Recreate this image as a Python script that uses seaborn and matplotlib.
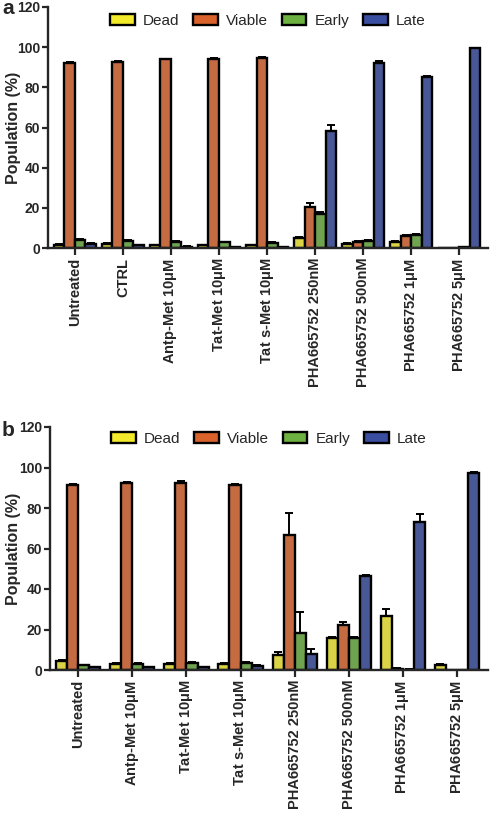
import pandas as pd
import matplotlib.pyplot as plt
import seaborn as sns
import numpy as np

# --- data ---
stages = ["Dead", "Viable", "Early", "Late"]
colors = ["#F3EA2C", "#DA632B", "#6DB141", "#3B4FA2"]

labels_a = ["Untreated", "CTRL", "Antp-Met 10$\\mu$M", "Tat-Met 10$\\mu$M", "Tat s-Met 10$\\mu$M",
            "PHA665752 250nM", "PHA665752 500nM", "PHA665752 1$\\mu$M", "PHA665752 5$\\mu$M"]
dead_a = [1.5, 2.2, 1.5, 1.3, 1.5, 5.0, 2.0, 3.0, 0.0]
viable_a = [92.0, 92.5, 94.0, 94.3, 94.5, 20.5, 3.0, 6.0, 0.0]
early_a = [4.0, 3.5, 3.0, 2.8, 2.5, 17.0, 3.5, 6.5, 0.3]
late_a = [2.0, 1.5, 0.7, 0.6, 0.6, 58.5, 92.0, 85.0, 99.5]
dead_err_a = [0.3, 0.3, 0.2, 0.2, 0.2, 0.6, 0.3, 0.3, 0.0]
viable_err_a = [0.8, 0.5, 0.3, 0.3, 0.5, 2.0, 0.3, 0.3, 0.0]
early_err_a = [0.6, 0.4, 0.3, 0.3, 0.3, 1.0, 0.3, 0.3, 0.0]
late_err_a = [0.3, 0.2, 0.1, 0.1, 0.1, 2.5, 1.0, 0.5, 0.2]

labels_b = ["Untreated", "Antp-Met 10$\\mu$M", "Tat-Met 10$\\mu$M", "Tat s-Met 10$\\mu$M",
            "PHA665752 250nM", "PHA665752 500nM", "PHA665752 1$\\mu$M", "PHA665752 5$\\mu$M"]
dead_b = [4.5, 3.0, 3.0, 3.0, 7.5, 16.0, 26.5, 2.5]
viable_b = [91.5, 92.5, 92.3, 91.3, 66.5, 22.0, 0.7, 0.0]
early_b = [2.3, 3.0, 3.5, 3.5, 18.5, 16.0, 0.2, 0.0]
late_b = [1.5, 1.5, 1.5, 2.0, 8.0, 46.5, 73.0, 97.5]
dead_err_b = [0.5, 0.3, 0.3, 0.3, 1.5, 0.3, 3.5, 0.3]
viable_err_b = [0.3, 0.3, 0.8, 0.5, 11.0, 1.5, 0.1, 0.0]
early_err_b = [0.3, 0.5, 0.5, 0.5, 10.3, 0.5, 0.1, 0.0]
late_err_b = [0.2, 0.2, 0.2, 0.3, 2.3, 0.5, 3.8, 0.3]


def make_df(labels, vals, errs):
    rows = []
    for s, v, e in zip(stages, vals, errs):
        for lab, vi, ei in zip(labels, v, e):
            rows.append({"Treatment": lab, "Stage": s, "Population": vi, "Err": ei})
    return pd.DataFrame(rows)


df_a = make_df(labels_a, [dead_a, viable_a, early_a, late_a],
               [dead_err_a, viable_err_a, early_err_a, late_err_a])
df_b = make_df(labels_b, [dead_b, viable_b, early_b, late_b],
               [dead_err_b, viable_err_b, early_err_b, late_err_b])

sns.set_theme(style="ticks")
plt.rcParams["font.family"] = ["Liberation Sans", "DejaVu Sans"]
plt.rcParams["mathtext.fontset"] = "custom"
plt.rcParams["mathtext.it"] = "Liberation Sans:bold"
plt.rcParams["mathtext.rm"] = "Liberation Sans:bold"

fig = plt.figure(figsize=(4.9, 8.16), dpi=100)
ax_a = fig.add_axes([48 / 490, 1 - 248 / 816, 440 / 490, 241 / 816])
ax_b = fig.add_axes([50 / 490, 1 - 670 / 816, 438 / 490, 243 / 816])


def draw(ax, df, labels, width, xlim, legend_y, left_px):
    sns.barplot(data=df, x="Treatment", y="Population", hue="Stage", order=labels,
                hue_order=stages, palette=colors, edgecolor="black", linewidth=1.7,
                width=width, errorbar=None, ax=ax, legend=False)
    # upward-only error bars
    for cont, s in zip(ax.containers, stages):
        sub = df[df["Stage"] == s].set_index("Treatment").loc[labels]
        xs = [p.get_x() + p.get_width() / 2 for p in cont.patches]
        ys = sub["Population"].values
        es = sub["Err"].values
        ax.errorbar(xs, ys, yerr=[np.zeros_like(es), es], fmt="none", ecolor="black",
                    elinewidth=1.4, capsize=2.6, capthick=1.4, zorder=1)
    ax.set_ylim(0, 120)
    ax.set_yticks(range(0, 121, 20))
    ax.set_xlim(*xlim)
    ax.set_xlabel("")
    ax.set_ylabel("Population (%)", fontsize=11.5, fontweight="bold")
    w_px = ax.get_position().width * 490
    # right edge of the rotated label sits ~20px from the figure edge
    ax.yaxis.set_label_coords((21 - left_px) / w_px, 0.5)
    ax.tick_params(axis="y", labelsize=10, width=1.6, length=4, pad=1.5)
    ax.tick_params(axis="x", labelsize=10.5, width=1.6, length=5, pad=2, rotation=90)
    for t in ax.get_xticklabels() + ax.get_yticklabels():
        t.set_fontweight("bold")
    sns.despine(ax=ax)
    for sp in ["left", "bottom"]:
        ax.spines[sp].set_linewidth(1.7)
    handles = [plt.Rectangle((0, 0), 1, 1, facecolor=c, edgecolor="black", linewidth=1.7)
               for c in colors]
    ax.legend(handles, stages, ncol=4, loc="center", bbox_to_anchor=(0.5, legend_y),
              frameon=False, fontsize=11, handlelength=1.6, handleheight=0.7,
              handletextpad=0.55, columnspacing=0.9)


draw(ax_a, df_a, labels_a, 0.875, (-0.56, 8.6), 0.942, 48)
draw(ax_b, df_b, labels_b, 0.82, (-0.52, 7.57), 0.95, 50)

fig.text(2 / 490, 1 - 9 / 816, "a", fontsize=15, fontweight="bold", va="center")
fig.text(2 / 490, 1 - 430 / 816, "b", fontsize=15, fontweight="bold", va="center")

fig.savefig("out.png", dpi=100)
